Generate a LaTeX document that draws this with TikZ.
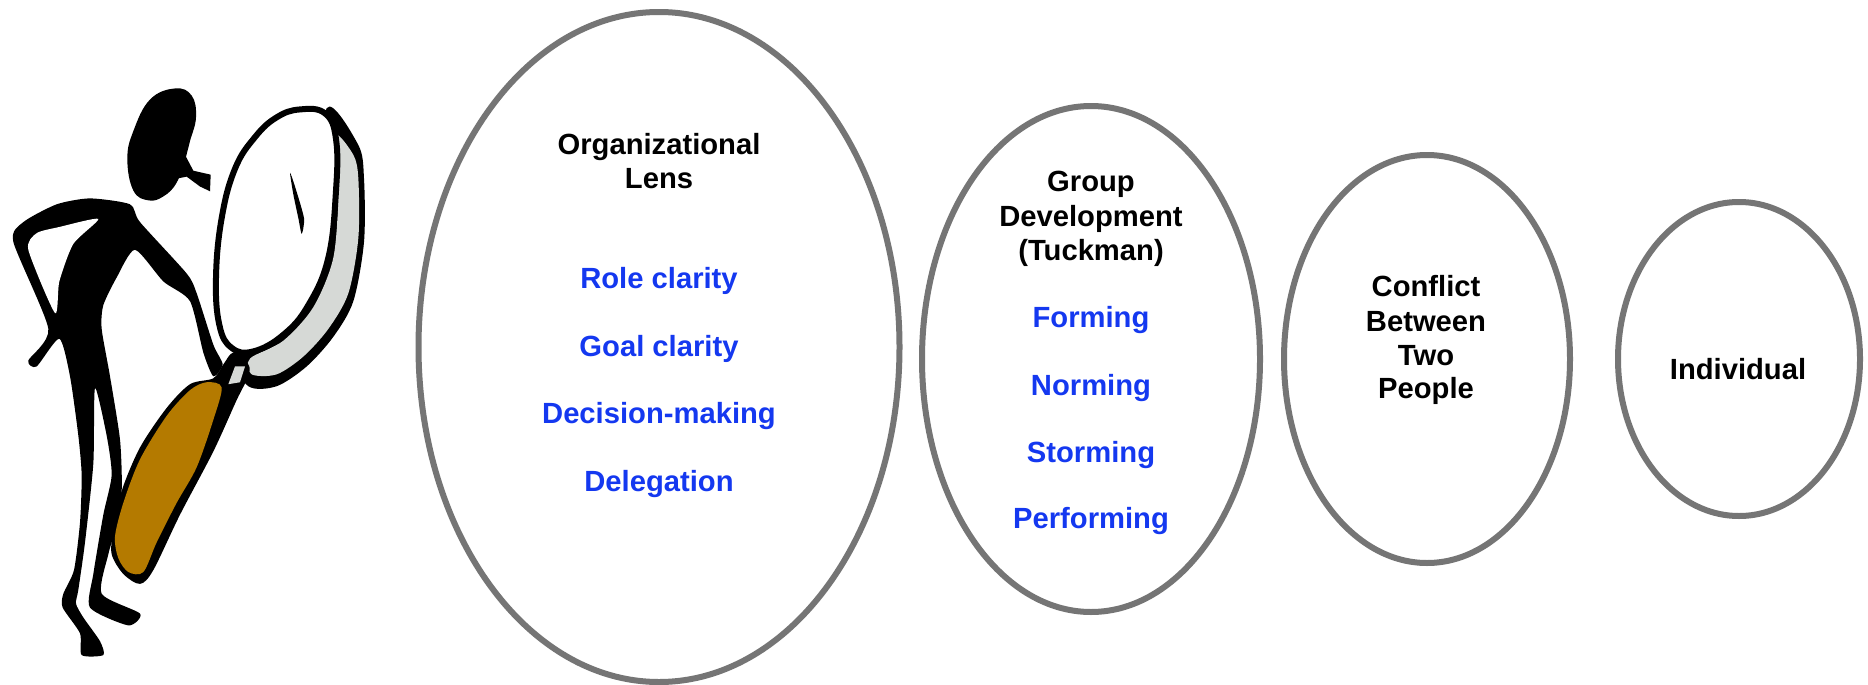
\documentclass[tikz,border=0pt]{standalone}
\usepackage{fontspec}
\setmainfont{Liberation Sans}
\usetikzlibrary{shapes.geometric}
\definecolor{ringgray}{HTML}{757575}
\definecolor{itemblue}{HTML}{1438F0}
\definecolor{handlebrown}{HTML}{B47A00}
\definecolor{rimgray}{HTML}{D6D9D6}
\tikzset{
  lensring/.style={ellipse,draw=ringgray,line width=3pt,inner sep=0pt},
  headtext/.style={anchor=base,font=\fontsize{14.6}{17}\selectfont\bfseries,text=black,inner sep=0pt},
  itemtext/.style={anchor=base,font=\fontsize{14.6}{17}\selectfont\bfseries,text=itemblue,inner sep=0pt}
}
\begin{document}
\begin{tikzpicture}[x=0.5pt,y=-0.5pt]
\useasboundingbox[fill=white] (0,0) rectangle (1868,685);
% ---- figure with magnifying glass
\begin{scope}[x=0.16667pt,y=-0.1977pt,shift={(0pt,-30pt)}]
  % rim
  \fill[black] plot[smooth cycle,tension=0.5] coordinates {(980,122)(1075,215)(1092,300)(1092,460)(1060,610)(1000,700)(920,775)(830,825)(745,825)(700,745)(850,650)(950,400)};
  \fill[rimgray] plot[smooth cycle,tension=0.5] coordinates {(1005,190)(1060,240)(1075,300)(1075,450)(1045,590)(985,680)(910,750)(830,795)(755,795)(750,755)(850,710)(940,625)(1000,500)(1015,330)};
  % lens
  \draw[black,fill=white,line width=3pt] plot[smooth cycle,tension=0.7] coordinates {(900,125)(975,135)(1008,200)(1008,330)(985,500)(925,620)(850,695)(760,737)(695,728)(658,670)(648,550)(665,400)(705,275)(765,195)(830,145)};
  \fill[black] plot[smooth cycle,tension=0.4] coordinates {(870,285)(885,320)(912,400)(905,440)(895,400)(880,340)};
  % body
  \fill[black] plot[smooth cycle,tension=0.4] coordinates {(40,460)(70,410)(170,365)(270,350)(390,365)(420,410)(560,540)(590,590)(640,720)(668,770)(640,800)(610,740)(570,610)(490,560)(405,480)(350,550)(310,620)(305,680)(330,800)(360,960)(365,1090)(345,1190)(325,1250)(305,1350)(420,1400)(385,1430)(270,1385)(280,1300)(310,1150)(335,1050)(320,950)(285,830)(280,1020)(255,1220)(235,1340)(228,1375)(250,1410)(300,1470)(310,1505)(245,1505)(240,1450)(188,1385)(190,1350)(222,1290)(240,1170)(245,1050)(235,950)(210,800)(178,705)(110,775)(85,760)(145,680)};
  \fill[white] plot[smooth cycle,tension=0.4] coordinates {(295,402)(180,422)(110,438)(85,480)(165,640)(178,560)(220,465)};
  % head
  \fill[black] plot[smooth cycle,tension=0.7] coordinates {(382,250)(400,180)(450,100)(525,72)(575,90)(588,145)(570,205)(558,245)(530,310)(490,345)(445,355)(400,330)};
  \fill[black] (555,240) -- (580,280) -- (632,290) -- (630,332) -- (600,320) -- (560,295) -- (530,300) -- cycle;
  % handle
  \fill[black] plot[smooth cycle,tension=0.5] coordinates {(640,805)(670,770)(700,740)(745,770)(745,800)(710,860)(640,990)(540,1150)(460,1290)(420,1325)(370,1300)(335,1250)(340,1190)(365,1090)(420,980)(500,880)(570,820)};
  \fill[handlebrown] plot[smooth cycle,tension=0.5] coordinates {(665,828)(640,910)(590,1030)(530,1120)(470,1220)(430,1295)(385,1295)(355,1260)(345,1205)(370,1120)(420,1010)(500,900)(570,835)(620,815)};
  \fill[rimgray] (705,775) -- (735,775) -- (720,815) -- (685,820) -- cycle;
\end{scope}
% ---- lenses
\node[lensring,minimum width=240.5pt,minimum height=335pt] (org) at (659,347) {};
\node[lensring,minimum width=169pt,minimum height=253pt] (grp) at (1091,359) {};
\node[lensring,minimum width=143pt,minimum height=204pt] (two) at (1427,359) {};
\node[lensring,minimum width=121pt,minimum height=157pt] (ind) at (1739,359) {};
% ---- texts
\node[headtext] (t1) at (659,154) {Organizational};
\node[headtext] (t2) at (659,188) {Lens};
\node[itemtext] (i1) at (659,288.5) {Role clarity};
\node[itemtext] (i2) at (659,356) {Goal clarity};
\node[itemtext] (i3) at (659,423.5) {Decision-making};
\node[itemtext] (i4) at (659,491.5) {Delegation};
\node[headtext] (g1) at (1091,191.5) {Group};
\node[headtext] (g2) at (1091,226) {Development};
\node[headtext] (g3) at (1091,260.5) {(Tuckman)};
\node[itemtext] (f1) at (1091,327) {Forming};
\node[itemtext] (f2) at (1091,395) {Norming};
\node[itemtext] (f3) at (1091,462) {Storming};
\node[itemtext] (f4) at (1091,528) {Performing};
\node[headtext] (c1) at (1426,296) {Conflict};
\node[headtext] (c2) at (1426,331.5) {Between};
\node[headtext] (c3) at (1426,365) {Two};
\node[headtext] (c4) at (1426,398) {People};
\node[headtext] (n1) at (1738,379) {Individual};
\end{tikzpicture}
\end{document}
